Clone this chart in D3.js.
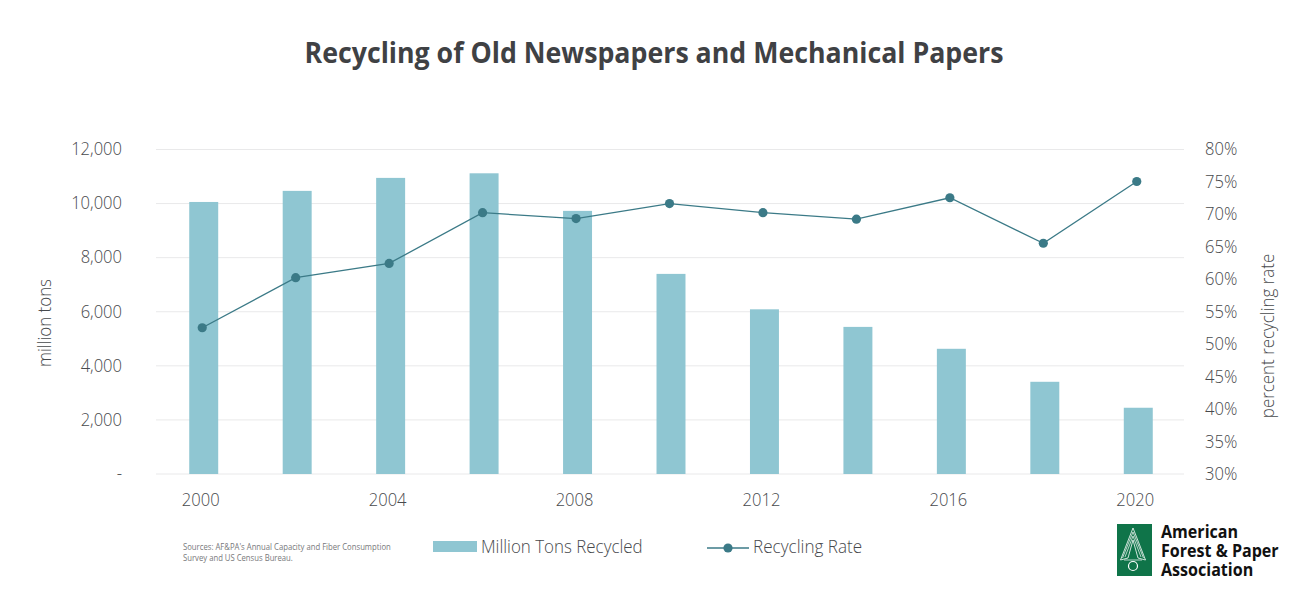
<!DOCTYPE html>
<html>
<head>
<meta charset="utf-8">
<script src="https://cdn.jsdelivr.net/npm/d3@7"></script>
<style>
body { margin: 0; background: #fff; }
svg { display: block; }
text { font-family: "Open Sans", sans-serif; }
</style>
</head>
<body>
<svg id="chart" width="1306" height="600"></svg>
<script>
var years = [2000, 2002, 2004, 2006, 2008, 2010, 2012, 2014, 2016, 2018, 2020];
var tons = [10060, 10470, 10950, 11120, 9730, 7400, 6090, 5440, 4630, 3410, 2450];
var rate = [52.5, 60.2, 62.4, 70.2, 69.3, 71.6, 70.2, 69.2, 72.5, 65.5, 75];
var tonTicks = [0, 2000, 4000, 6000, 8000, 10000, 12000];
var rateTicks = [30, 35, 40, 45, 50, 55, 60, 65, 70, 75, 80];

var svg = d3.select("#chart");
var textCol = "#47494c";

var x = d3.scaleBand().domain(years).range([157, 1185]).paddingInner(0.69).paddingOuter(0.345);
var yL = d3.scaleLinear().domain([0, 12000]).range([474, 149.5]);
var yR = d3.scaleLinear().domain([30, 80]).range([474, 149]);
var fmt = d3.format(",");
var lineShift = -1.5; // the rate line sits a little left of the bar centres

// the original type is narrower than Open Sans, so squeeze each text to fit
function squeeze(sel, k) {
    sel.each(function () {
        var w = this.getComputedTextLength();
        d3.select(this).attr("textLength", w * k).attr("lengthAdjust", "spacingAndGlyphs");
    });
}

// title
svg.append("text").attr("x", 654).attr("y", 63).attr("text-anchor", "middle")
    .attr("font-size", 28).attr("font-weight", 700).attr("fill", "#3f4144")
    .attr("textLength", 699).attr("lengthAdjust", "spacingAndGlyphs")
    .text("Recycling of Old Newspapers and Mechanical Papers");

// grid
svg.append("g").selectAll("line").data(tonTicks).enter().append("line")
    .attr("x1", 156).attr("x2", 1184)
    .attr("y1", function (d) { return yL(d); })
    .attr("y2", function (d) { return yL(d); })
    .attr("stroke", "#e9e9ea").attr("stroke-width", 1);

// bars
svg.append("g").selectAll("rect").data(years).enter().append("rect")
    .attr("x", function (d) { return x(d); })
    .attr("width", x.bandwidth())
    .attr("y", function (d, i) { return yL(tons[i]); })
    .attr("height", function (d, i) { return yL(0) - yL(tons[i]); })
    .attr("fill", "#8fc6d2");

// line
var line = d3.line()
    .x(function (d, i) { return x(years[i]) + x.bandwidth() / 2 + lineShift; })
    .y(function (d) { return yR(d); });
svg.append("path").datum(rate).attr("d", line)
    .attr("fill", "none").attr("stroke", "#3b7a87").attr("stroke-width", 1.3);
svg.append("g").selectAll("circle").data(rate).enter().append("circle")
    .attr("cx", function (d, i) { return x(years[i]) + x.bandwidth() / 2 + lineShift; })
    .attr("cy", function (d) { return yR(d); })
    .attr("r", 4.6).attr("fill", "#3b7a87");

// axes
var axisLeft = d3.axisLeft(yL).tickValues(tonTicks).tickSize(0).tickPadding(34)
    .tickFormat(function (d) { return d === 0 ? "-" : fmt(d); });
var gl = svg.append("g").attr("transform", "translate(156,-0.5)").call(axisLeft);
var axisRight = d3.axisRight(yR).tickValues(rateTicks).tickSize(0).tickPadding(21)
    .tickFormat(function (d) { return d + "%"; });
var gr = svg.append("g").attr("transform", "translate(1184,0)").call(axisRight);
var axisBottom = d3.axisBottom(x).tickValues(years.filter(function (d, i) { return i % 2 === 0; })).tickSize(0).tickPadding(19);
var gb = svg.append("g").attr("transform", "translate(-3,474)").call(axisBottom);
[gl, gr, gb].forEach(function (g) {
    g.select(".domain").remove();
    var t = g.selectAll("text").attr("font-family", "Open Sans, sans-serif")
        .attr("font-size", 18).attr("font-weight", 300).attr("fill", textCol);
    squeeze(t, 0.92);
});

// axis titles
squeeze(svg.append("text").attr("transform", "translate(51,323) rotate(-90)").attr("text-anchor", "middle")
    .attr("font-size", 18).attr("font-weight", 300).attr("fill", textCol).text("million tons"), 0.94);
squeeze(svg.append("text").attr("transform", "translate(1274,336) rotate(-90)").attr("text-anchor", "middle")
    .attr("font-size", 18).attr("font-weight", 300).attr("fill", textCol).text("percent recycling rate"), 0.94);

// source note
var notes = ["Sources: AF&PA's Annual Capacity and Fiber Consumption", "Survey and US Census Bureau."];
squeeze(svg.append("g").selectAll("text").data(notes).enter().append("text")
    .attr("x", 183).attr("y", function (d, i) { return 550 + i * 11; })
    .attr("font-size", 9).attr("font-weight", 400).attr("fill", "#77787b")
    .text(function (d) { return d; }), 0.856);

// legend
svg.append("rect").attr("x", 433).attr("y", 541).attr("width", 44).attr("height", 11).attr("fill", "#8fc6d2");
squeeze(svg.append("text").attr("x", 481).attr("y", 553).attr("font-size", 18).attr("font-weight", 300).attr("fill", textCol).text("Million Tons Recycled"), 0.94);
svg.append("line").attr("x1", 707).attr("x2", 749).attr("y1", 548).attr("y2", 548).attr("stroke", "#3b7a87").attr("stroke-width", 1.3);
svg.append("circle").attr("cx", 728).attr("cy", 548).attr("r", 4.6).attr("fill", "#3b7a87");
squeeze(svg.append("text").attr("x", 753).attr("y", 553).attr("font-size", 18).attr("font-weight", 300).attr("fill", textCol).text("Recycling Rate"), 0.95);

// logo
var logo = svg.append("g");
logo.append("rect").attr("x", 1117).attr("y", 524).attr("width", 35).attr("height", 52).attr("fill", "#0f7449");
logo.append("path").attr("d", "M1133 528L1145.5 560L1138 558L1133 540L1128 558L1120.5 560Z")
    .attr("fill", "none").attr("stroke", "#fff").attr("stroke-width", 0.8);
logo.append("path").attr("d", "M1133 532L1143.5 558M1133 532L1122.5 558M1133 536L1141 557M1133 536L1125 557M1124 560L1142 560")
    .attr("fill", "none").attr("stroke", "#fff").attr("stroke-width", 0.7);
logo.append("circle").attr("cx", 1133).attr("cy", 566).attr("r", 4.5).attr("fill", "none").attr("stroke", "#fff").attr("stroke-width", 1.2);
var logoText = ["American", "Forest & Paper", "Association"];
squeeze(svg.append("g").selectAll("text").data(logoText).enter().append("text")
    .attr("x", 1161).attr("y", function (d, i) { return 538 + i * 19; })
    .attr("font-size", 17).attr("font-weight", 700).attr("fill", "#111")
    .text(function (d) { return d; }), 0.945);
</script>
</body>
</html>
